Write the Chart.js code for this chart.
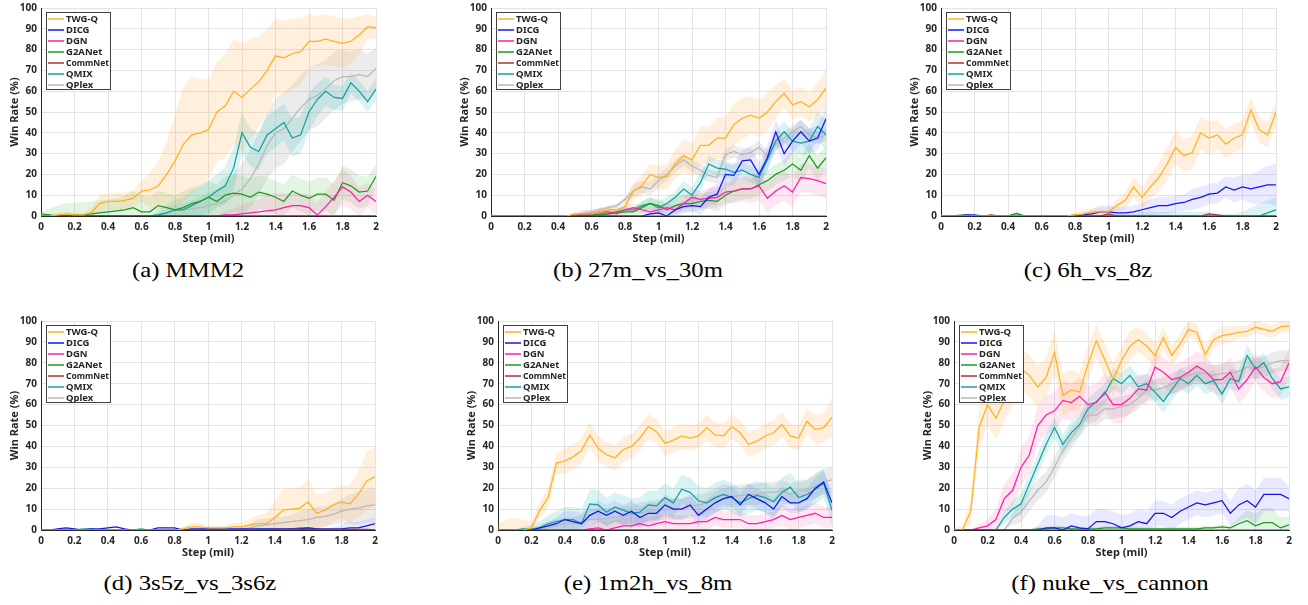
<!DOCTYPE html>
<html lang="en">
<head>
<meta charset="UTF-8">
<title>Win rate curves</title>
<script src="https://cdn.jsdelivr.net/npm/chart.js"></script>
<style>
  body { margin: 0; background: #fff; }
  #page { position: relative; width: 1308px; height: 605px; overflow: hidden; }
  .panel { position: absolute; }
  .caption { position: absolute; transform: translateX(-50%) scaleX(1.18); font-family: "Liberation Serif", serif; font-size: 21px; color: #000; white-space: nowrap; }
</style>
</head>
<body>
<div id="page"></div>
<script>
// ---- data (x in million steps, y in % win rate) ----
const steps = [0,0.05,0.1,0.15,0.2,0.25,0.3,0.35,0.4,0.45,0.5,0.55,0.6,0.65,0.7,0.75,0.8,0.85,0.9,0.95,1,1.05,1.1,1.15,1.2,1.25,1.3,1.35,1.4,1.45,1.5,1.55,1.6,1.65,1.7,1.75,1.8,1.85,1.9,1.95,2];
const xTicks = [0,0.2,0.4,0.6,0.8,1,1.2,1.4,1.6,1.8,2];
const yTicks = [0,10,20,30,40,50,60,70,80,90,100];

// (a) MMM2
const a_names = ['TWG-Q','DICG','DGN','G2ANet','CommNet','QMIX','QPlex'];
const a_twg = [0,0,0.5,1,0.5,0.5,1.6,6,7,7, 7.5,8.5,12,12.5,14.5,20,26.5,34.5,39,40, 41.5,50,53,60,57,61,64.5,70,77,76, 78,79,84,84,85,84,83,84,87,91, 90.5];
const a_twg_sd = [1,1,1,1,1,1,2,4,4,4, 4,4,5,8,12,16,22,28,28,26, 24,24,25,25,26,24,22,20,18,18, 17,16,13,12,12,12,12,11,9,6, 5];
const a_dicg = [0,0,0,0,0,0,0,0,0,0, 0,0,0,0,0,0,0,0,0,0, 0,0,0,0,0,0,0,0,0,0, 0,0,0,0,0,0,0,0,0,0, 0];
const a_dgn = [0,0,0,0,0,0,0,0,0,0, 0,0,0,0,0,0,0,0,0,0, 0,0,0.5,0.5,1,1.5,2,2.5,3,4, 5,5,4,0.5,4.5,9,14,11.5,7,10, 7];
const a_dgn_sd = [0,0,0,0,0,0,0,0,0,0, 0,0,0,0,0,0,0,0,0,0, 0,0,2,3,4,5,6,8,8,7, 6,6,6,6,7,8,9,8,7,6, 6];
const a_g2a = [1,0.5,0,0,0.5,0.5,1,1.5,2,2.5, 3,4,2,2,5,4,3,4,6,7, 9,7,10,11,10.5,9,11.5,10.5,9,7, 12,10,8.5,10.5,10.5,7.5,16,14.5,11.5,12, 19];
const a_g2a_sd = [1,3,5,6,6,6,6,6,6,6, 7,8,8,7,7,7,7,8,8,8, 8,8,9,9,9,9,8,8,8,8, 8,8,8,8,8,8,8,8,8,7, 6];
const a_comm = [0,0,0,0,0,0,0,0,0,0, 0,0,0,0,0,0,0,0,0,0, 0,0,0,0,0,0,0,0,0,0, 0,0,0,0,0,0,0,0,0,0, 0];
const a_qmix = [0,0,0,0,0,0,0,0,0,0, 0,0,0,0,0.5,1.5,3,3,5,7, 9,12,14.5,23,40,33,31,39,42,45, 37.5,39,50,56,60,57,56.5,64,60,55, 61];
const a_qmix_sd = [0,0,0,0,0,0,0,0,0,0, 0,0,0,0,2,4,5,6,7,7, 8,8,9,10,10,9,9,9,9,9, 9,9,9,8,7,6,6,5,5,5, 5];
const a_qplex = [0,0,0,0,0,0,0,0,0,0, 0,0,0,0,0.5,1.5,2.5,3,3.5,4, 5,6,7,10,13,18,25,34,40,42, 47,52,56,58,61,65,67,67,68,67, 71];
const a_qplex_sd = [0,0,0,0,0,0,0,0,0,0, 0,0,0,0,1,2,3,3,4,5, 6,7,8,10,12,14,15,16,17,17, 16,16,15,15,14,14,13,12,12,11, 10];

// (b) 27m_vs_30m
const b_names = ['TWG-Q','DICG','DGN','G2ANet','CommNet','QMIX','Qplex'];
const b_twg = [0,0,0,0,0,0,0,0,0,0, 1,1,1,2,3,3,4.5,12,14.5,20, 18.5,19,25,29,27,34,34,37.5,37.5,44, 47,48.5,47,50,55,59,53.5,55,52.5,56, 61.5];
const b_twg_sd = [0,0,0,0,0,0,0,0,0,0, 1,1.5,1.5,1.5,1.5,1.5,3,4,5,5, 6,6,7,8,8,9,9,10,10,10, 10,9,9,9,8,7,7,7,7,8, 9];
const b_dicg = [0,0,0,0,0,0,0,0,0,0, 0,0,0,0,0,0,0,0,0,1, 1.5,0,3,4.5,5,4.5,9,10.5,20,19.5, 26.5,27,20,28,40.5,30,36,40.5,36,37.5, 46.8];
const b_dicg_sd = [0,0,0,0,0,0,0,0,0,0, 0,0,0,0,0,0,0,0,0,1, 2,2,3,3,3,4,4,5,5,5, 5,6,6,6,6,6,6,6,6,6, 6];
const b_dgn = [0,0,0,0,0,0,0,0,0,0, 0,1,1,2,2,1,3,4,3,2, 3,4,3,6,9,8,8.5,9,11.5,12, 13,13,14.5,8.5,12,14.5,11.5,18.5,18,17, 15.5];
const b_dgn_sd = [0,0,0,0,0,0,0,0,0,0, 0,2,2,2,2,2,2,2,2,2, 2,2,2,3,4,4,5,5,5,6, 6,7,7,7,7,7,7,7,7,7, 7];
const b_g2a = [0,0,0,0,0,0,0,0,0,0, 0,0,0.5,0.5,1,1.5,2,2,4,6, 5,3,5,6,6,7,7.5,7,10,12, 13,13,15,17,20,22,25,22,29,23, 28];
const b_g2a_sd = [0,0,0,0,0,0,0,0,0,0, 0,0,1,2,2,2,2,2,3,3, 3,3,4,4,4,4,4,5,5,5, 5,5,5,5,5,5,6,6,6,6, 6];
const b_comm = [0,0,0,0,0,0,0,0,0,0, 0,0,0,0,0,0,0,0,0,0, 0,0,0,0,0,0,0,0,0,0, 0,0,0,0,0,0,0,0,0,0, 0];
const b_qmix = [0,0,0,0,0,0,0,0,0,0, 0,0.5,0.5,1,1,2,3,3,5,6, 4,6,9,13,10,16,25,23,22.5,21, 22,20,18.5,27,36,40.5,36,35,36,43, 39];
const b_qmix_sd = [0,0,0,0,0,0,0,0,0,0, 0,1,1,1,1,1,1,1,2,3, 3,3,3,4,4,4,4,4,4,4, 4,4,4,5,5,5,5,6,6,7, 7];
const b_qplex = [0,0,0,0,0,0,0,0,0,0, 0.5,1,2,3,4,5,8,12,14,13, 17,20,24,27,24,22,19.5,18.5,29.5,31, 29.5,30.5,33,29,34.5,37.5,40.5,43,39,37.5, 39];
const b_qplex_sd = [0,0,0,0,0,0,0,0,0,0, 1,1,1,1,1,1,1,3,3,3, 3,3,3,3,3,3,3,3,3,3, 3,3,3,3,3,3,3,3,3,3, 3];

// (c) 6h_vs_8z
const c_names = ['TWG-Q','DICG','DGN','G2ANet','CommNet','QMIX','Qplex'];
const c_twg = [0,0,0,0,0,0,0,0,0,0, 0,0,0,0,0,0,0.5,1,2,2, 2,5,7.5,14,9,14,18.5,25,33,29, 30.5,40,37.5,39,34.5,37.5,39,51,41.5,39, 50];
const c_twg_sd = [0,0,0,0,0,0,0,0,0,0, 0,0,0,0,0,0,1,2,2,2, 2,3,4,5,5,6,7,8,8,8, 8,8,8,7,7,7,7,6,6,6, 6];
const c_dicg = [0,0,0,0.5,0.5,0,0,0,0,0, 0,0,0,0,0,0,0,0.5,1,2, 2,1.5,1.5,2,3,4,5,5,6,6.5, 8,9,10.5,11,14,12.5,14,13,14,15, 15];
const c_dicg_sd = [0,0,0,0,0,0,0,0,0,0, 0,0,0,0,0,0,0,1,2,3, 3,3,3,3,3,4,4,4,4,4, 5,5,5,5,5,6,6,7,8,9, 10];
const c_dgn = [0,0,0,0,0,0,0,0,0,0, 0,0,0,0,0,0,0,0,0,0, 0,0,0,0,0,0,0,0,0,0, 0,0,0,0,0,0,0,0,0,0, 0];
const c_g2a = [0,0,0.3,0.5,0,0,0,0,0,1.3, 0,0,0,0,0,0,0.5,0,0,0, 0,0,0,0,0,0,0,0,0,0, 0,0,0,0,0,0,0,0,0,0, 0];
const c_comm = [0,0,0,0,0,0,0.5,0,0,0, 0,0,0,0,0,0,0,0,0,0, 1,0,0,0,0,0,0,0,0,0, 0,0,1,0.5,0,0,0,0,0,0, 0];
const c_qmix = [0,0,0,0,0,0,0,0,0,1.2, 0,0,0,0,0,0,0,0,0,0, 0,0,0,0,0,0,0,0,0,0, 0,0,0,0,0,0,0,0,0,1.5, 3];
const c_qmix_sd = [0,0,0,0,0,0,0,0,0,0, 0,0,0,0,0,0,0,0,0,0, 1,1,1,1,2,2,2,2,2,2, 2,2,2,1,1,1,2,4,6,6, 6];
const c_qplex = [0,0,0,0,0,0,0,0,0,0, 0,0,0,0,0,0,0,0,0,0, 0,0,0,0,0,0,0,0,0,0, 0,0,0,0,0,0,0,0,0,0, 0];

// (d) 3s5z_vs_3s6z
const d_names = ['TWG-Q','DICG','DGN','G2ANet','CommNet','QMIX','Qplex'];
const d_twg = [0,0,0,0,0,0,0,0,0,0, 0,0,0,0,0,0,0,0.5,1.5,1.5, 1,1,1,1.5,1.5,2.5,3,3,6,9.5, 10,10.5,13.5,8,9.5,12,13.5,12.5,17,23.5, 25.5];
const d_twg_sd = [0,0,0,0,0,0,0,0,0,0, 0,0,0,0,0,0,0,1,2,2, 1,1,1,2,2,3,4,5,8,10, 10,10,11,9,8,8,8,9,11,14, 14];
const d_dicg = [0,0,0.5,1,0.5,0,0.5,0.5,1,1.5, 0.5,0,0,0,1,1,1,0,0.5,0.5, 0.5,0.5,0.5,0.5,0.5,0.5,0.5,0.5,0.5,0.5, 0.5,0.5,1,0.5,0.5,0.5,0.5,1,1,2, 3];
const d_dicg_sd = [0,0,0,0,0,0,0,0,0,0, 0,0,0,0,0,0,0,0,0,0, 0,0,0,0,0,0,0,0,0,0, 0,0,0,0,0,1,2,3,3,3, 3];
const d_dgn = [0,0,0,0,0,0,0,0,0,0, 0,0,0,0,0,0,0,0,0,0, 0,0,0,0,0,0,0,0,0,0, 0,0,0,0,0,0,0,0,0,0, 0];
const d_g2a = [0,0,0,0,0,0,0,0,0,0, 0,0,0,0,0,0,0,0,0,0, 0,0,0,0,0,0,0.3,0.3,0.3,0.3, 0.3,0.3,0.3,0,0,0,0,0,0,0, 0];
const d_comm = [0,0,0,0,0,0,0,0,0,0, 0,0,0,0,0,0,0,0,0,0, 0,0,0,0,0,0,0,0,0,0.3, 0.3,0.3,0.3,0.3,0.3,0.3,0.3,0.3,0.3,0.3, 0];
const d_qmix = [0,0,0,0,0,0.5,0.5,0,0,0, 0,0,0.5,0,0,0,0,0,0,0, 0.5,0,0,0,0,0,0,0,0,0, 0.5,1,1,0.5,0,0,0,0,0,0, 0];
const d_qplex = [0,0,0,0,0,0,0,0,0,0, 0,0,0,0,0,0,0,0,0,0, 0,0,0,0,0.5,1,2,2.5,3,3.5, 4,4.5,5,6,6.5,7.5,9,10,10.5,11.5, 12];
const d_qplex_sd = [0,0,0,0,0,0,0,0,0,0, 0,0,0,0,0,0,0,0,0,0, 0,0,0,0,1,2,3,3,3,3, 3,5,5,5,5,5,6,7,8,8, 8];

// (e) 1m2h_vs_8m
const e_names = ['TWG-Q','DICG','DGN','G2ANet','CommNet','QMIX','QPlex'];
const e_twg = [0,0,0,0,1,9.5,15.5,32,33,35, 38,45.5,39,36,34.5,38.5,40,44,49.5,47, 41.5,43,45,44,45,49,45.5,45,49.5,46.5, 41,42.5,45,46.5,50.5,45,44,52,48,49, 54];
const e_twg_sd = [3,5,6,5,3,4,5,5,6,6, 6,6,6,6,6,6,6,6,6,6, 6,6,6,6,6,6,6,6,6,6, 6,6,6,6,6,6,6,6,7,7, 9];
const e_dicg = [0,0,0,0,0,1,2,3,5,4, 3,7,9,7,9,7,9,6,8,8, 12,10,10,12,7,10,13,15,16,12, 17,15,13,10,16,13,13,15,20,23, 13];
const e_dicg_sd = [0,0,0,0,0,1,2,3,4,5, 5,5,5,5,5,5,5,5,5,5, 5,5,5,5,5,5,5,5,5,5, 5,5,5,5,5,5,5,5,5,5, 5];
const e_dgn = [0,0,0,0,0,0,0,0,0,0, 0,0.5,1,0,1,2,2,3,2,3, 4,3,3,3,4,4,6,5,5,5, 3,3,4,5,7,5,6,7,8,6, 6];
const e_dgn_sd = [0,0,0,0,0,0,0,0,0,0, 0,2,4,4,4,4,4,4,4,4, 4,4,4,4,4,4,4,4,4,4, 4,4,4,4,5,5,5,5,5,5, 5];
const e_g2a = [0,0,0,0,0,0,0,0,0,0, 0,0,0,0,0,0,0,0,0,0, 0,0,0,0,0,0,0,0,0,0, 0,0,0,0,0,0,0,0,0,0, 0];
const e_comm = [0,0,0,0,0,0,0,0,0,0, 0,0,0,0,0,0,0,0,0,0, 0,0,0,0,0,0,0,0,0,0, 0,0,0,0,0,0,0,0,0,0, 0];
const e_qmix = [0,0,0,0.5,0.5,1,3,4,5,5, 3,12.5,12,8.5,11,9.5,8,8.5,12,11.5, 15.5,13,19.5,18,14,13,15.5,17,15.5,13, 15,16.5,15.5,13.5,18,20.5,15.5,17,19.5,22.5, 9.5];
const e_qmix_sd = [0,0,0,1,2,3,4,5,6,6, 7,7,7,7,7,7,7,7,7,7, 7,7,7,7,7,7,7,7,7,7, 7,7,7,7,7,7,7,7,7,7, 7];
const e_qplex = [0,0,0,0,0.3,0.5,1,2,3,3, 4,5,5,5.5,6,6.5,7,8,9,9.5, 10,10,10,11,12,13,15,17,16,16.5, 17,17,18,18,19,17,19,19,21,23, 24];
const e_qplex_sd = [0,0,0,0,1,2,3,3,3,3, 3,5,5,5,5,5,5,5,5,5, 5,5,5,5,5,5,5,5,5,5, 5,5,5,5,5,5,5,5,6,6, 6];

// (f) nuke_vs_cannon
const f_names = ['TWG-Q','DICG','DGN','G2ANet','CommNet','QMIX','QPlex'];
const f_twg = [0,0,9,49,60,53.5,62,70,77,74, 68.5,73,85,64.5,67,66,79.5,90.5,81.5,72, 81,88,91,88,83.5,92,83.5,89,96,94.5, 84,91,93,93.7,94.5,95,97,96,95,97.3, 97.6];
const f_twg_sd = [1,2,6,10,10,10,10,10,10,10, 10,10,10,10,10,9,8,8,8,8, 7,7,6,6,6,5,5,5,4,4, 4,4,4,4,3,3,3,3,3,3, 3];
const f_dicg = [0,0,0,0,0,0,0,0,0,0, 0,1,1,0,2,1,0.5,4,4,3, 1,2,4,3,8,8,6,9,11,13, 12,13,14,8,12,14,11,17,17,17, 15];
const f_dicg_sd = [0,0,0,0,0,0,0,0,0,0, 2,6,6,6,6,6,6,6,6,6, 6,6,6,6,6,6,6,6,6,6, 6,6,6,6,8,8,8,8,8,8, 6];
const f_dgn = [0,0,0,1,2,5,15,19,30,36, 50,55,57,62,61,64,60,61,66,60, 60,63,67.5,67,78,75.5,72,73,75.5,78.5, 76,72,72,75.5,67.5,72,78,73,70,71, 80];
const f_dgn_sd = [0,0,0,2,3,5,7,8,9,9, 9,9,9,9,9,9,9,9,9,9, 9,7,7,7,7,7,7,7,7,7, 7,7,7,7,7,7,7,7,7,7, 7];
const f_g2a = [0,0,0,0,0,0,0,0,0,0, 0.5,0.5,1,1,0.5,0.5,0.5,0.5,1,1, 1,0.5,0.5,0.5,0.5,0.5,0.5,0.5,0.5,0.5, 1,1,1.5,1,3,4.5,2,3.5,3.5,1, 2.5];
const f_g2a_sd = [0,0,0,0,0,0,0,0,0,0, 1,1,1,1,1,1,1,1,1,1, 1,1,1,1,1,1,1,1,1,1, 1,1,1,1,3,5,6,7,7,5, 4];
const f_comm = [0,0,0,0,0,0,0,0,0,0, 0,0,0,0,0,0,0,0,0,0, 0,0,0,0,0,0,0,0,0,0, 0,0,0,0,0,0,0,0,0,0, 0];
const f_qmix = [0,0,0,0,0,0,6,10,12.5,22, 31.5,41,49,41,46.5,50.5,58,61.5,65,72.5, 70,74,68.5,70,66,61.5,67,72.5,70,74, 70,71.5,65,72.5,71,83.5,77,80,72.5,67.5, 68.5];
const f_qmix_sd = [0,0,0,0,0,0,3,4,5,5, 5,5,5,5,5,5,5,5,5,5, 5,5,5,5,5,5,5,5,5,5, 5,5,5,5,5,5,5,5,5,5, 5];
const f_qplex = [0,0,0,0,0,0,0,5.5,8.5,14, 19,23,30,38,44,49.5,55,55,58,58, 59,60,63,67,67,68,70,72,74,75, 75,74,75,75,76,78,77,78,80,81, 81];
const f_qplex_sd = [0,0,0,0,0,0,0,3,5,5, 5,5,5,5,5,5,5,5,5,5, 5,5,5,5,5,5,5,5,5,5, 5,5,5,5,5,5,5,5,5,5, 5];

const captions = ['(a) MMM2', '(b) 27m_vs_30m', '(c) 6h_vs_8z', '(d) 3s5z_vs_3s6z', '(e) 1m2h_vs_8m', '(f) nuke_vs_cannon'];

const panels = [
  { names: a_names, means: [a_twg, a_dicg, a_dgn, a_g2a, a_comm, a_qmix, a_qplex], spreads: [a_twg_sd, null, a_dgn_sd, a_g2a_sd, null, a_qmix_sd, a_qplex_sd] },
  { names: b_names, means: [b_twg, b_dicg, b_dgn, b_g2a, b_comm, b_qmix, b_qplex], spreads: [b_twg_sd, b_dicg_sd, b_dgn_sd, b_g2a_sd, null, b_qmix_sd, b_qplex_sd] },
  { names: c_names, means: [c_twg, c_dicg, c_dgn, c_g2a, c_comm, c_qmix, c_qplex], spreads: [c_twg_sd, c_dicg_sd, null, null, null, c_qmix_sd, null] },
  { names: d_names, means: [d_twg, d_dicg, d_dgn, d_g2a, d_comm, d_qmix, d_qplex], spreads: [d_twg_sd, d_dicg_sd, null, null, null, null, d_qplex_sd] },
  { names: e_names, means: [e_twg, e_dicg, e_dgn, e_g2a, e_comm, e_qmix, e_qplex], spreads: [e_twg_sd, e_dicg_sd, e_dgn_sd, null, null, e_qmix_sd, e_qplex_sd] },
  { names: f_names, means: [f_twg, f_dicg, f_dgn, f_g2a, f_comm, f_qmix, f_qplex], spreads: [f_twg_sd, f_dicg_sd, f_dgn_sd, f_g2a_sd, null, f_qmix_sd, f_qplex_sd] }
];

// ---- layout and styles ----
const plotBoxes = [
  { left: 41, top: 5, right: 376, bottom: 216, capX: 188, capY: 258 },
  { left: 491, top: 5, right: 826, bottom: 216, capX: 638, capY: 258 },
  { left: 941, top: 5, right: 1276, bottom: 216, capX: 1088, capY: 258 },
  { left: 41, top: 318, right: 375, bottom: 530, capX: 190, capY: 571 },
  { left: 498, top: 318, right: 832, bottom: 530, capX: 648, capY: 571 },
  { left: 954, top: 318, right: 1289, bottom: 530, capX: 1110, capY: 571 }
];
const seriesColors = ['#FFB21E', '#1414F0', '#FF1EAA', '#1E9B1E', '#B03232', '#14A0A0', '#B9B9B9'];
const bandColors = ['rgba(255,168,60,0.18)', 'rgba(70,70,255,0.12)', 'rgba(255,70,150,0.13)', 'rgba(50,180,50,0.14)', 'rgba(180,50,50,0.1)', 'rgba(30,180,180,0.17)', 'rgba(160,160,160,0.2)'];
const drawOrder = [0, 2, 3, 4, 1, 5, 6];   // lower = drawn on top
const textColor = '#262626';

Chart.defaults.font.family = '"Noto Sans", sans-serif';

// legend box drawn inside the plot area, like the MATLAB one
const boxLegend = {
  id: 'boxLegend',
  afterDraw(chart, args, opts) {
    const ctx = chart.ctx;
    const x = Math.round(chart.chartArea.left + 5) + 0.5;
    const y = Math.round(chart.chartArea.top + 4) + 0.5;
    const w = 64, h = 77;
    ctx.save();
    ctx.fillStyle = '#fff';
    ctx.fillRect(x, y, w, h);
    ctx.strokeStyle = '#404040';
    ctx.lineWidth = 1;
    ctx.strokeRect(x, y, w, h);
    ctx.font = 'bold 9.5px "Noto Sans", sans-serif';
    ctx.textBaseline = 'middle';
    opts.names.forEach((n, i) => {
      const cy = y + 6.5 + i * 11;
      ctx.strokeStyle = seriesColors[i];
      ctx.lineWidth = 1.5;
      ctx.beginPath();
      ctx.moveTo(x + 1.5, cy);
      ctx.lineTo(x + 17.5, cy);
      ctx.stroke();
      ctx.fillStyle = textColor;
      ctx.fillText(n, x + 19.5, cy + 0.5, w - 21);
    });
    ctx.restore();
  }
};

function buildDatasets(p) {
  const ds = [];
  p.means.forEach((m, i) => {
    const sd = p.spreads[i];
    if (!sd) return;
    ds.push({
      data: steps.map((x, k) => ({ x: x, y: Math.min(m[k] + sd[k], 100) })),
      fill: '+1', backgroundColor: bandColors[i], borderWidth: 0, pointRadius: 0, order: 20 + i
    });
    ds.push({
      data: steps.map((x, k) => ({ x: x, y: Math.max(m[k] - sd[k], 0) })),
      fill: false, borderWidth: 0, pointRadius: 0, order: 20 + i
    });
  });
  p.means.forEach((m, i) => {
    ds.push({
      label: p.names[i],
      data: steps.map((x, k) => ({ x: x, y: m[k] })),
      borderColor: seriesColors[i], borderWidth: 1.25, pointRadius: 0,
      fill: false, tension: 0, order: drawOrder[i]
    });
  });
  return ds;
}

const page = document.getElementById('page');

panels.forEach((p, idx) => {
  const b = plotBoxes[idx];
  const padTop = 7, padRight = 12, yAxisW = 40, xAxisH = 34;
  const div = document.createElement('div');
  div.className = 'panel';
  div.style.left = (b.left - yAxisW) + 'px';
  div.style.top = (b.top - padTop) + 'px';
  const cw = b.right - b.left + yAxisW + padRight;
  const ch = b.bottom - b.top + padTop + xAxisH;
  const canvas = document.createElement('canvas');
  canvas.width = cw;
  canvas.height = ch;
  canvas.style.width = cw + 'px';
  canvas.style.height = ch + 'px';
  div.appendChild(canvas);
  page.appendChild(div);

  const cap = document.createElement('div');
  cap.className = 'caption';
  cap.style.left = b.capX + 'px';
  cap.style.top = b.capY + 'px';
  cap.textContent = captions[idx];
  page.appendChild(cap);

  new Chart(canvas, {
    type: 'line',
    data: { datasets: buildDatasets(p) },
    options: {
      responsive: false,
      animation: false,
      events: [],
      layout: { padding: { left: 0, top: padTop, right: padRight, bottom: 0 } },
      scales: {
        x: {
          type: 'linear', min: 0, max: 2,
          afterBuildTicks: s => { s.ticks = xTicks.map(v => ({ value: v })); },
          afterFit: s => { s.height = xAxisH; },
          ticks: { color: textColor, font: { size: 10, weight: 'bold' }, padding: 5, maxRotation: 0,
                   callback: v => String(v) },
          grid: { color: '#e4e4e4', drawTicks: false },
          border: { color: textColor, width: 1 },
          title: { display: true, text: 'Step (mil)', color: textColor,
                   font: { size: 11, weight: 'bold' }, padding: { top: 0, bottom: 5 } }
        },
        y: {
          type: 'linear', min: 0, max: 100,
          afterBuildTicks: s => { s.ticks = yTicks.map(v => ({ value: v })); },
          afterFit: s => { s.width = yAxisW; },
          ticks: { color: textColor, font: { size: 10, weight: 'bold' }, padding: 4 },
          grid: { color: '#e4e4e4', drawTicks: false },
          border: { color: textColor, width: 1 },
          title: { display: true, text: 'Win Rate (%)', color: textColor,
                   font: { size: 11, weight: 'bold' }, padding: { top: 7, bottom: 0 } }
        }
      },
      plugins: {
        legend: { display: false },
        tooltip: { enabled: false },
        boxLegend: { names: p.names }
      }
    },
    plugins: [boxLegend]
  });
});
</script>
</body>
</html>
